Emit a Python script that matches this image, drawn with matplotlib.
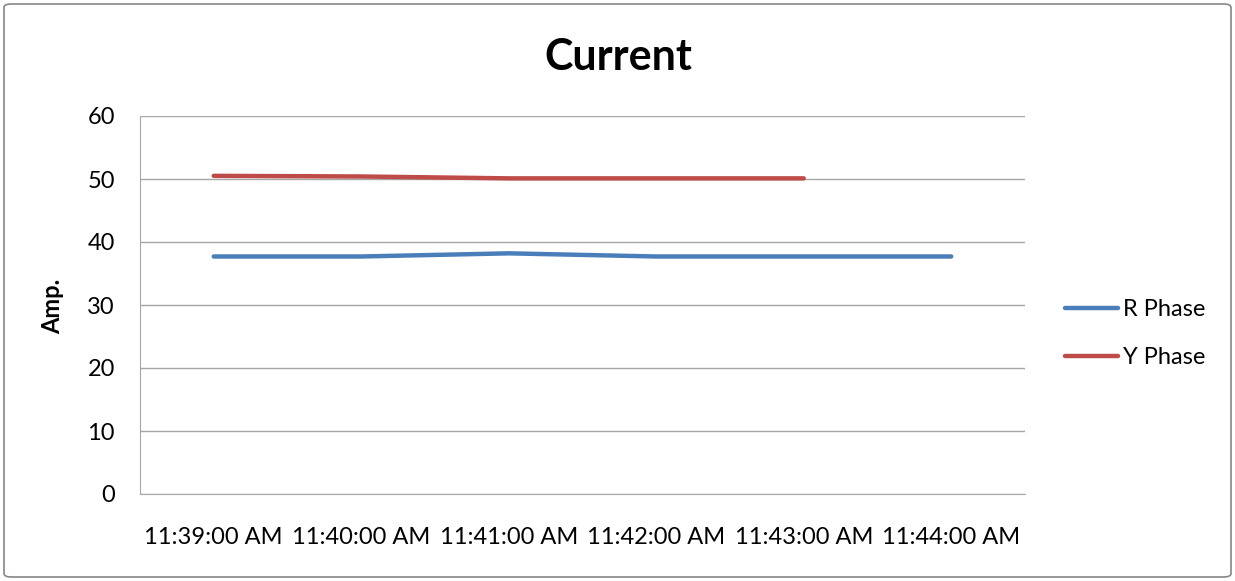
import matplotlib
matplotlib.use("Agg")
import matplotlib.pyplot as plt
from matplotlib.patches import FancyBboxPatch

# categories and series
times = ['11:39:00 AM', '11:40:00 AM', '11:41:00 AM', '11:42:00 AM', '11:43:00 AM', '11:44:00 AM']
r_phase = [37.7, 37.7, 38.2, 37.7, 37.7, 37.7]
y_phase = [50.5, 50.4, 50.1, 50.1, 50.1]

plt.rcParams['font.family'] = ['Lato', 'DejaVu Sans']

W, H = 1235, 581
fig = plt.figure(figsize=(W / 100, H / 100), dpi=100)
ax = fig.add_axes([140 / W, 1 - 494 / H, 885 / W, 378 / H])

# outer chart border
border = FancyBboxPatch((4 / W, 4 / H), 1227 / W, 573 / H,
                        boxstyle='round,pad=0,rounding_size=0.006',
                        transform=fig.transFigure, fill=False,
                        edgecolor='#868686', linewidth=1.2)
fig.patches.append(border)

x = list(range(len(times)))
ax.plot(x, r_phase, color='#4a7ebb', linewidth=3.2, solid_capstyle='round', label='R Phase')
ax.plot(x[:len(y_phase)], y_phase, color='#be4b48', linewidth=3.2, solid_capstyle='round', label='Y Phase')

ax.set_xlim(-0.5, len(times) - 0.5)
ax.set_ylim(0, 60)
ax.set_yticks(range(0, 61, 10))
ax.set_xticks(x)
ax.set_xticklabels(times)
ax.yaxis.grid(True, color='#a6a6a6', linewidth=1)
ax.set_axisbelow(True)
for s in ['top', 'right']:
    ax.spines[s].set_visible(False)
for s in ['left', 'bottom']:
    ax.spines[s].set_color('#a6a6a6')
ax.tick_params(axis='both', length=0, labelsize=17, colors='#000000')
ax.tick_params(axis='y', pad=18)
ax.tick_params(axis='x', pad=24)

fig.text(53 / W, 1 - 306 / H, 'Amp.', rotation=90, ha='center', va='center',
         fontsize=17, fontweight='bold')
fig.text(618 / W, 1 - 57 / H, 'Current', ha='center', va='center',
         fontsize=31, fontweight='bold')

leg = ax.legend(loc='center left', bbox_to_anchor=(1065 / W, 1 - 333.5 / H),
                bbox_transform=fig.transFigure, frameon=False, borderpad=0,
                borderaxespad=0, fontsize=17, handlelength=2.25,
                handletextpad=0.2, labelspacing=1.15)

fig.savefig('out.png', dpi=100)
